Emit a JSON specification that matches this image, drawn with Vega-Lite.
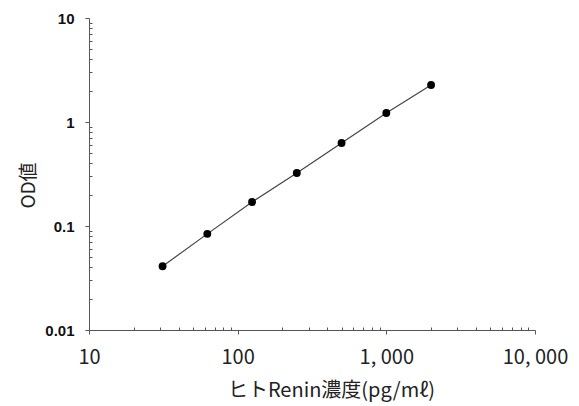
{
  "$schema": "https://vega.github.io/schema/vega-lite/v6.json",
  "width": 446,
  "height": 312,
  "autosize": {"type": "none"},
  "padding": {"left": 89, "top": 18, "right": 44, "bottom": 76},
  "background": "white",
  "config": {"view": {"stroke": null}},
  "data": {"values": [
    {"conc": 31.25, "od": 0.041},
    {"conc": 62.5, "od": 0.084},
    {"conc": 125, "od": 0.17},
    {"conc": 250, "od": 0.323},
    {"conc": 500, "od": 0.628},
    {"conc": 1000, "od": 1.22},
    {"conc": 2000, "od": 2.27}
  ]},
  "encoding": {
    "x": {
      "field": "conc", "type": "quantitative",
      "scale": {"type": "log", "domain": [10, 10000], "nice": false},
      "axis": {
        "title": "ヒトRenin濃度(pg/mℓ)",
        "values": [10,20,30,40,50,60,70,80,90,100,200,300,400,500,600,700,800,900,1000,2000,3000,4000,5000,6000,7000,8000,9000,10000],
        "format": ",d",
        "labelExpr": "indexof([10,100,1000,10000], datum.value) >= 0 ? replace(datum.label, ',', ', ') : ''",
        "tickSize": {"condition": {"test": "indexof([10,100,1000,10000], datum.value) >= 0", "value": 4}, "value": -3},
        "grid": false,
        "domainColor": "#555",
        "tickColor": "#555",
        "labelFont": "Noto Sans CJK JP",
        "labelFontSize": 20,
        "labelColor": "#222",
        "labelPadding": 13,
        "labelFlush": false,
        "titleFont": "Noto Sans CJK JP",
        "titleFontSize": 20,
        "titleFontWeight": "normal",
        "titleColor": "#222",
        "titleX": 242,
        "titleY": 50
      }
    },
    "y": {
      "field": "od", "type": "quantitative",
      "scale": {"type": "log", "domain": [0.01, 10], "nice": false},
      "axis": {
        "title": "OD値",
        "values": [0.01,0.02,0.03,0.04,0.05,0.06,0.07,0.08,0.09,0.1,0.2,0.3,0.4,0.5,0.6,0.7,0.8,0.9,1,2,3,4,5,6,7,8,9,10],
        "format": ".2~f",
        "labelExpr": "indexof([0.01,0.1,1,10], datum.value) >= 0 ? datum.label : ''",
        "tickSize": {"condition": {"test": "indexof([0.01,0.1,1,10], datum.value) >= 0", "value": 4}, "value": -3},
        "grid": false,
        "domainColor": "#555",
        "tickColor": "#555",
        "labelFont": "Liberation Sans",
        "labelFontWeight": "bold",
        "labelFontSize": 15,
        "labelColor": "#111",
        "labelPadding": 11,
        "labelFlush": false,
        "titleFont": "Noto Sans CJK JP",
        "titleFontSize": 19,
        "titleFontWeight": "normal",
        "titleColor": "#222",
        "titleX": -61,
        "titleY": 167,
        "titleAlign": "center",
        "titleBaseline": "middle"
      }
    }
  },
  "layer": [
    {"mark": {"type": "line", "color": "#444", "strokeWidth": 1.2}},
    {"mark": {"type": "point", "filled": true, "color": "black", "size": 62, "opacity": 1}}
  ]
}
